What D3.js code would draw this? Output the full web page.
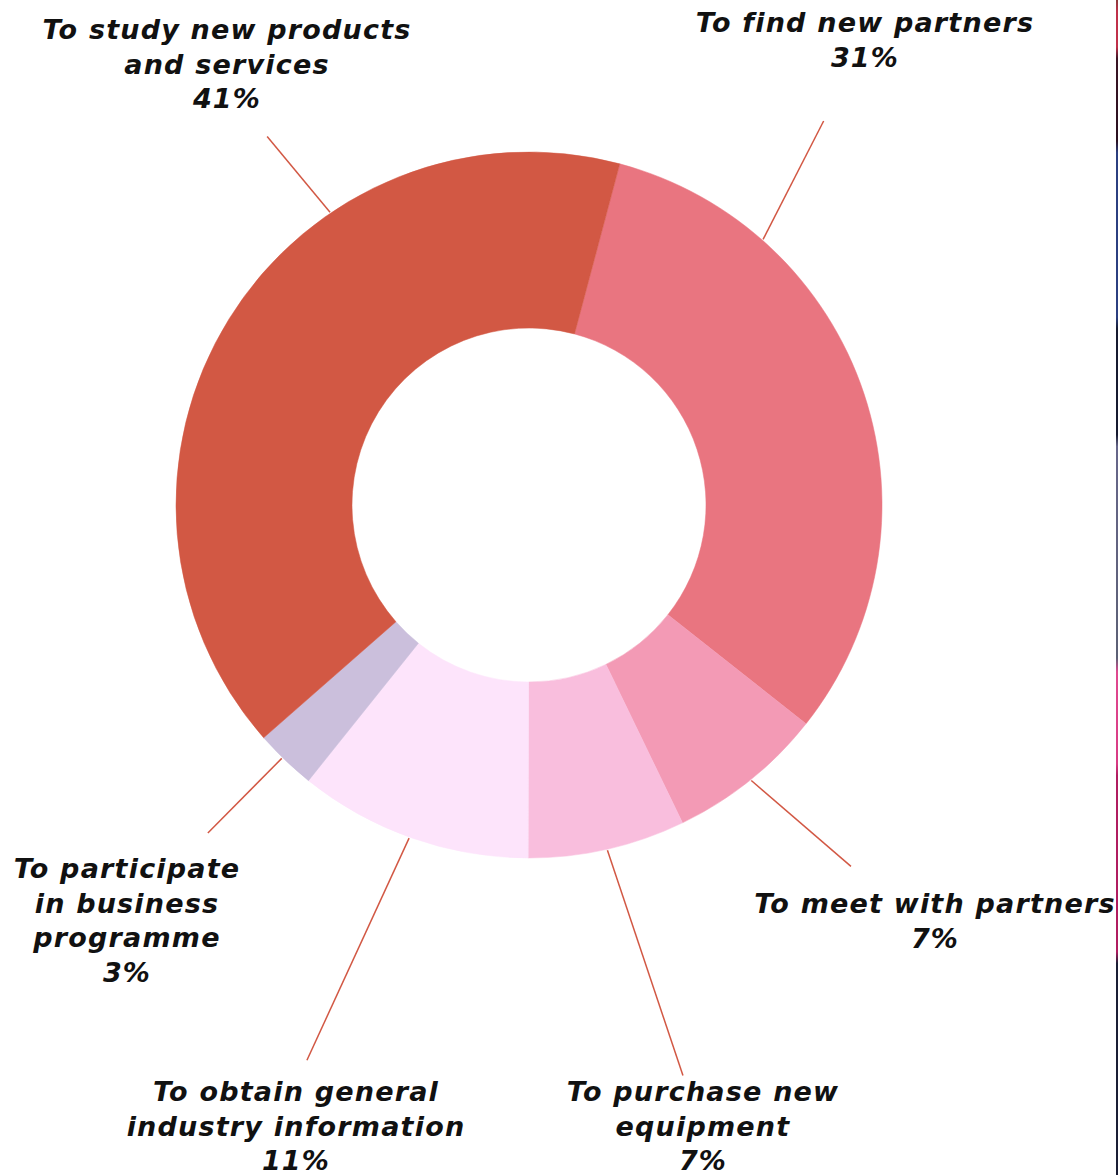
<!DOCTYPE html>
<html>
<head>
<meta charset="utf-8">
<script src="https://cdn.jsdelivr.net/npm/d3@7"></script>
<style>
  html, body { margin: 0; padding: 0; background: #fff; }
  svg { display: block; }
  .lbl { font-family: "DejaVu Sans", sans-serif; font-style: oblique; font-weight: 700; font-size: 27px; letter-spacing: 1.2px; fill: #111; }
</style>
</head>
<body>
<script>
(function(){

//pseudo-global data (pie order, clockwise from the top)
var categories = [
    ["To find new partners"],
    ["To meet with partners"],
    ["To purchase new", "equipment"],
    ["To obtain general", "industry information"],
    ["To participate", "in business", "programme"],
    ["To study new products", "and services"]
];
var values = [31.5, 7.2, 7.2, 10.7, 2.8, 40.6];
var pctLabels = ["31%", "7%", "7%", "11%", "3%", "41%"];
var colors = ["#E97580", "#F39AB5", "#F9BEDD", "#FDE4FB", "#CBBFDC", "#D25844"];

//label layout (not data): text centre / first baseline, leader line in polar degrees
var labelPos = [[865, 32], [935, 913], [703, 1101], [296, 1101], [127, 878], [227, 39]];
var leaderStart = [41.4, 141.1, 167.2, 199.8, 224.3, 325.8];
var leaderEnd = [[37.5, 484], [138.3, 484], [164.9, 591], [201.8, 598], [224.4, 459], [324.6, 452]];

var width = 1118, height = 1175,
    cx = 529, cy = 505,
    outerR = 353, innerR = 177,
    startDeg = 14.9,
    lineGap = 34.5;

var svg = d3.select("body")
    .append("svg")
    .attr("width", width)
    .attr("height", height);

//cropped slide edge on the far right
var grad = svg.append("defs").append("linearGradient")
    .attr("id", "edge")
    .attr("x1", 0).attr("y1", 0).attr("x2", 0).attr("y2", 1);
var edgeStops = [[0, "#8a3a3a"], [0.01, "#c0304a"], [0.04, "#c0304a"], [0.05, "#3a1424"], [0.12, "#2a1020"],
    [0.13, "#2b3f80"], [0.27, "#2b3f80"], [0.28, "#161a30"], [0.37, "#161a30"], [0.38, "#66668a"],
    [0.56, "#5c6075"], [0.572, "#e04890"], [0.65, "#d83a84"], [0.66, "#b01c60"], [0.81, "#b01c60"],
    [0.82, "#1a1e35"], [1, "#1a1e35"]];
grad.selectAll("stop")
    .data(edgeStops)
    .enter()
    .append("stop")
    .attr("offset", function(d){ return d[0]; })
    .attr("stop-color", function(d){ return d[1]; });
svg.append("rect")
    .attr("x", 1116).attr("y", 0)
    .attr("width", 2).attr("height", height)
    .attr("fill", "url(#edge)");

var toRad = function(deg){ return deg * Math.PI / 180; };

var pie = d3.pie()
    .sort(null)
    .startAngle(toRad(startDeg))
    .endAngle(toRad(startDeg + 360));

var arc = d3.arc()
    .innerRadius(innerR)
    .outerRadius(outerR);

var g = svg.append("g")
    .attr("transform", "translate(" + cx + "," + cy + ")");

g.selectAll(".slice")
    .data(pie(values))
    .enter()
    .append("path")
    .attr("class", "slice")
    .attr("d", arc)
    .attr("fill", function(d, i){ return colors[i]; })
    .attr("stroke", function(d, i){ return colors[i]; })
    .attr("stroke-width", 0.5);

//leader lines
function polar(deg, r){
    return [r * Math.sin(toRad(deg)), -r * Math.cos(toRad(deg))];
}
g.selectAll(".leader")
    .data(values)
    .enter()
    .append("line")
    .attr("class", "leader")
    .attr("x1", function(d, i){ return polar(leaderStart[i], outerR + 1)[0]; })
    .attr("y1", function(d, i){ return polar(leaderStart[i], outerR + 1)[1]; })
    .attr("x2", function(d, i){ return polar(leaderEnd[i][0], leaderEnd[i][1])[0]; })
    .attr("y2", function(d, i){ return polar(leaderEnd[i][0], leaderEnd[i][1])[1]; })
    .attr("stroke", "#D25844")
    .attr("stroke-width", 1.5);

//labels
var labels = svg.selectAll(".lbl")
    .data(categories)
    .enter()
    .append("text")
    .attr("class", "lbl")
    .attr("text-anchor", "middle")
    .attr("x", function(d, i){ return labelPos[i][0]; })
    .attr("y", function(d, i){ return labelPos[i][1]; });

labels.each(function(d, i){
    var t = d3.select(this);
    var lines = d.concat([pctLabels[i]]);
    lines.forEach(function(line, j){
        t.append("tspan")
            .attr("x", labelPos[i][0])
            .attr("y", labelPos[i][1] + j * lineGap)
            .text(line);
    });
});

})();
</script>
</body>
</html>
